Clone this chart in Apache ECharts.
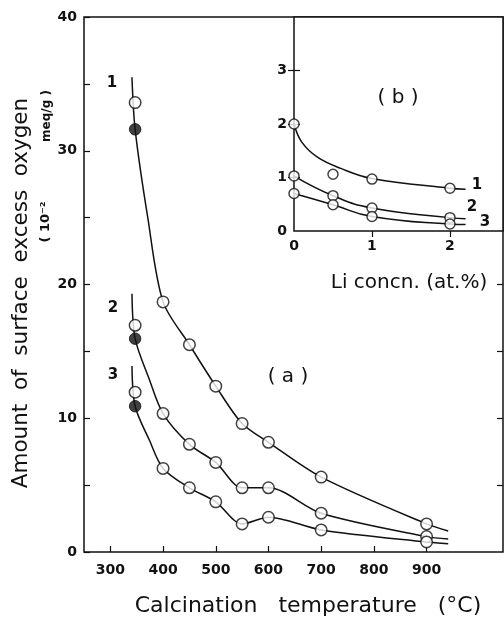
<!DOCTYPE html>
<html><head><meta charset="utf-8">
<script src="https://cdn.jsdelivr.net/npm/echarts@6/dist/echarts.min.js"></script>
<style>html,body{margin:0;padding:0;background:#fff}#c{width:504px;height:619px}</style>
</head><body><div id="c"></div>
<script>
// ---- Main plot (a): calcination temperature (°C) vs surface excess oxygen (10^-2 meq/g)
const tempsMain = [347, 400, 450, 500, 550, 600, 700, 900];
const curve1Open = [33.6, 18.7, 15.5, 12.4, 9.6, 8.2, 5.6, 2.1];
const curve2Open = [16.95, 10.35, 8.05, 6.7, 4.8, 4.8, 2.9, 1.15];
const curve3Open = [11.95, 6.25, 4.8, 3.75, 2.1, 2.6, 1.65, 0.75];
const filledTemp = 347;
const filledValues = [31.6, 15.95, 10.9];
// drawn fit-line readings: start above first point, one reading on the steep part, end beyond 900 °C
const lineStartT = 341, lineEndT = 941;
const lineStartValues = [35.5, 19.3, 13.9];
const steepT = [371, 374, 374];
const steepValues = [25.0, 12.9, 8.37];
const lineEndValues = [1.57, 0.97, 0.62];
const xTickValues = [300, 400, 500, 600, 700, 800, 900];
const yLabelValues = [0, 10, 20, 30, 40];

// ---- Inset (b): Li concentration (at.%) vs surface excess oxygen
const liConc = [0, 0.5, 1, 2];
const inset1 = [2.0, 1.06, 0.97, 0.8];
const inset2 = [1.03, 0.66, 0.43, 0.25];
const inset3 = [0.7, 0.49, 0.27, 0.13];
// fitted curve for inset series 1 (passes above the 0.5 point)
const inset1FitX = [0, 0.1, 0.3, 0.6, 1, 2, 2.2];
const inset1FitY = [2.0, 1.66, 1.38, 1.17, 0.98, 0.8, 0.78];
const insetLineEndX = 2.2;
const insetLineEnd = [0.78, 0.23, 0.12];
const insetXLabels = [0, 1, 2];
const insetYLabels = [0, 1, 2, 3];

const INK = '#111';
const FONT = 'DejaVu Sans';

function mainLine(openVals, i) {
  const pts = [[lineStartT, lineStartValues[i]], [filledTemp, filledValues[i]], [steepT[i], steepValues[i]]];
  for (let k = 1; k < tempsMain.length; k++) pts.push([tempsMain[k], openVals[k]]);
  pts.push([lineEndT, lineEndValues[i]]);
  return pts;
}
function zip(xs, ys) { return xs.map((x, k) => [x, ys[k]]); }

const lineStyle = { color: INK, width: 1.5 };
const openItem = { color: '#fff', borderColor: INK, borderWidth: 1.5 };

const series = [];
[curve1Open, curve2Open, curve3Open].forEach((vals, i) => {
  series.push({ type: 'line', xAxisIndex: 0, yAxisIndex: 0, data: mainLine(vals, i),
    smooth: 0.3, showSymbol: false, lineStyle, silent: true, z: 2 });
});
[curve1Open, curve2Open, curve3Open].forEach((vals) => {
  series.push({ type: 'scatter', xAxisIndex: 0, yAxisIndex: 0, data: zip(tempsMain, vals),
    symbol: 'circle', symbolSize: 11.5, itemStyle: openItem, z: 3 });
});
series.push({ type: 'scatter', xAxisIndex: 0, yAxisIndex: 0,
  data: filledValues.map(v => [filledTemp, v]), symbol: 'circle', symbolSize: 11.5,
  itemStyle: { color: INK, borderColor: INK, borderWidth: 1 }, z: 3 });

// inset lines
series.push({ type: 'line', xAxisIndex: 1, yAxisIndex: 2, data: zip(inset1FitX, inset1FitY),
  smooth: 0.4, showSymbol: false, lineStyle, z: 5 });
[inset2, inset3].forEach((vals, j) => {
  const d = zip(liConc, vals); d.push([insetLineEndX, insetLineEnd[j + 1]]);
  series.push({ type: 'line', xAxisIndex: 1, yAxisIndex: 2, data: d,
    smooth: 0.5, showSymbol: false, lineStyle, z: 5 });
});
[inset1, inset2, inset3].forEach((vals) => {
  series.push({ type: 'scatter', xAxisIndex: 1, yAxisIndex: 2, data: zip(liConc, vals),
    symbol: 'circle', symbolSize: 10, itemStyle: openItem, z: 6 });
});

const tickLbl = { color: INK, fontFamily: FONT, fontSize: 14, fontWeight: 'bold' };
const tickLine = { color: INK, width: 1.2 };

const option = {
  animation: false,
  backgroundColor: '#fff',
  grid: [
    { left: 84, top: 17, right: 1, bottom: 67, show: true, borderColor: INK, borderWidth: 1.5, backgroundColor: 'transparent' },
    { left: 294, top: 17, right: 1, bottom: 388, show: true, borderColor: INK, borderWidth: 1.5, backgroundColor: '#fff', z: 4 }
  ],
  xAxis: [
    { gridIndex: 0, type: 'value', min: 250, max: 1045, splitLine: { show: false },
      axisLine: { show: false },
      axisTick: { inside: true, length: 6, customValues: xTickValues, lineStyle: tickLine },
      axisLabel: Object.assign({ customValues: xTickValues, margin: 11 }, tickLbl) },
    { gridIndex: 1, type: 'value', min: 0, max: 2.68, splitLine: { show: false },
      axisLine: { show: false }, axisTick: { show: false },
      axisLabel: Object.assign({ customValues: insetXLabels, margin: 8 }, tickLbl), z: 5 },
    { gridIndex: 1, type: 'value', position: 'top', min: 0, max: 2.68, splitLine: { show: false },
      axisLine: { show: false },
      axisTick: { inside: true, length: 6, customValues: [1, 2], lineStyle: tickLine },
      axisLabel: { show: false }, z: 5 }
  ],
  yAxis: [
    { gridIndex: 0, type: 'value', min: 0, max: 40, interval: 5, splitLine: { show: false },
      axisLine: { show: false },
      axisTick: { inside: true, length: 6, lineStyle: tickLine },
      axisLabel: Object.assign({ customValues: yLabelValues, margin: 7 }, tickLbl) },
    { gridIndex: 0, type: 'value', position: 'right', min: 0, max: 40, splitLine: { show: false },
      axisLine: { show: false },
      axisTick: { inside: true, length: 6, customValues: [5, 10, 15, 20], lineStyle: tickLine },
      axisLabel: { show: false } },
    { gridIndex: 1, type: 'value', min: 0, max: 4, interval: 1, splitLine: { show: false },
      axisLine: { show: false },
      axisTick: { inside: true, length: 6, customValues: [1, 2, 3], lineStyle: tickLine },
      axisLabel: Object.assign({ customValues: insetYLabels, margin: 7 }, tickLbl), z: 5 },
    { gridIndex: 1, type: 'value', position: 'right', min: 0, max: 4, splitLine: { show: false },
      axisLine: { show: false },
      axisTick: { inside: true, length: 6, customValues: [1, 2, 3], lineStyle: tickLine },
      axisLabel: { show: false }, z: 5 }
  ],
  series,
  graphic: [
    { type: 'text', x: 21, y: 293, rotation: Math.PI / 2, z: 10,
      style: { text: 'Amount  of  surface  excess  oxygen', font: '21.5px "DejaVu Sans"', fill: INK, textAlign: 'center', textVerticalAlign: 'middle' } },
    { type: 'text', x: 46, y: 222, rotation: Math.PI / 2, z: 10,
      style: { text: '( 10⁻²', font: 'bold 13px "DejaVu Sans"', fill: INK, textAlign: 'center', textVerticalAlign: 'middle' } },
    { type: 'text', x: 47, y: 116, rotation: Math.PI / 2, z: 10,
      style: { text: 'meq/g )', font: 'bold 12px "DejaVu Sans"', fill: INK, textAlign: 'center', textVerticalAlign: 'middle' } },
    { type: 'text', x: 308, y: 606, z: 10,
      style: { text: 'Calcination   temperature   (°C)', font: '22px "DejaVu Sans"', fill: INK, textAlign: 'center', textVerticalAlign: 'middle' } },
    { type: 'text', x: 409, y: 283, z: 10,
      style: { text: 'Li concn. (at.%)', font: '20px "DejaVu Sans"', fill: INK, textAlign: 'center', textVerticalAlign: 'middle' } },
    { type: 'text', x: 288, y: 377, z: 10,
      style: { text: '( a )', font: '20px "DejaVu Sans"', fill: INK, textAlign: 'center', textVerticalAlign: 'middle' } },
    { type: 'text', x: 398, y: 98, z: 10,
      style: { text: '( b )', font: '20px "DejaVu Sans"', fill: INK, textAlign: 'center', textVerticalAlign: 'middle' } },
    { type: 'text', x: 112, y: 83, z: 10, style: { text: '1', font: 'bold 15px "DejaVu Sans"', fill: INK, textAlign: 'center', textVerticalAlign: 'middle' } },
    { type: 'text', x: 113, y: 308, z: 10, style: { text: '2', font: 'bold 15px "DejaVu Sans"', fill: INK, textAlign: 'center', textVerticalAlign: 'middle' } },
    { type: 'text', x: 113, y: 375, z: 10, style: { text: '3', font: 'bold 15px "DejaVu Sans"', fill: INK, textAlign: 'center', textVerticalAlign: 'middle' } },
    { type: 'text', x: 477, y: 185, z: 10, style: { text: '1', font: 'bold 15px "DejaVu Sans"', fill: INK, textAlign: 'center', textVerticalAlign: 'middle' } },
    { type: 'text', x: 472, y: 207, z: 10, style: { text: '2', font: 'bold 15px "DejaVu Sans"', fill: INK, textAlign: 'center', textVerticalAlign: 'middle' } },
    { type: 'text', x: 485, y: 222, z: 10, style: { text: '3', font: 'bold 15px "DejaVu Sans"', fill: INK, textAlign: 'center', textVerticalAlign: 'middle' } }
  ]
};
const chart = echarts.init(document.getElementById('c'), null, { renderer: 'canvas' });
chart.setOption(option);
</script></body></html>
